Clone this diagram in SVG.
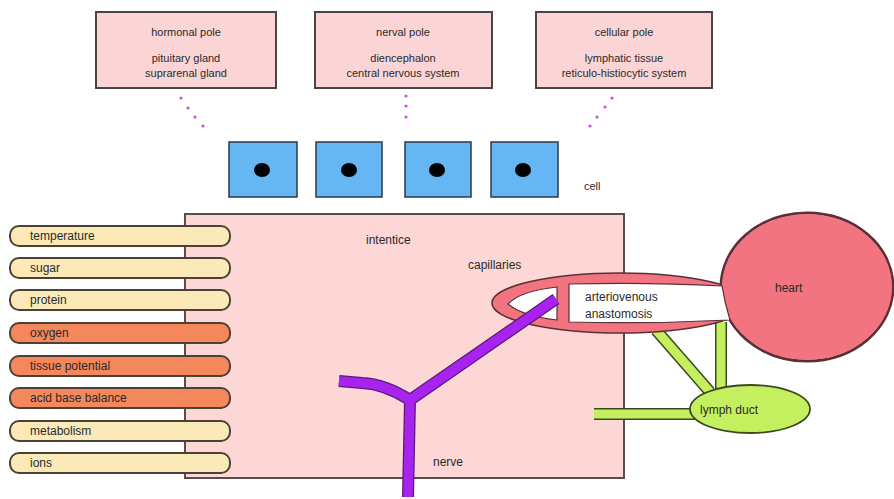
<svg xmlns="http://www.w3.org/2000/svg" width="894" height="499" viewBox="0 0 894 499">
<style>
text{font-family:"Liberation Sans",Arial,sans-serif;font-size:11px;fill:#2a2a2a}
.pole{fill:#fbd5d5;stroke:#4a4444;stroke-width:2}
.cellbox{fill:#66b6f4;stroke:#2a3a4a;stroke-width:1.5}
.nuc{fill:#000}
.pill{stroke:#4a4236;stroke-width:2}
.beige{fill:#fbeab8}
.orange{fill:#f4875c}
.dot{fill:#c455e0}
.pink{fill:#f27480;stroke:#5a3036;stroke-width:1.5}
.white{fill:#fff;stroke:#5a3036;stroke-width:1.2}
.lymphE{fill:none;stroke:#3c4a20;stroke-width:12}
.lymphI{fill:none;stroke:#c4f060;stroke-width:9}
.ptext{font-size:12px}
</style>
<rect x="0" y="0" width="894" height="499" fill="#ffffff"/>
<g id="interstice">
<rect x="185" y="214" width="439" height="264" fill="#fdd6d6" stroke="#5a4c4c" stroke-width="2"/>
<text x="366" y="244" class="ptext">intentice</text>
<text x="468" y="269" class="ptext">capillaries</text>
<text x="433" y="466" class="ptext">nerve</text>
</g>
<g id="hormonal">
<rect class="pole" x="96" y="12" width="180" height="76"/>
<text x="186" y="36" text-anchor="middle">hormonal pole</text>
<text x="186" y="62" text-anchor="middle">pituitary gland</text>
<text x="186" y="77" text-anchor="middle">suprarenal gland</text>
</g>
<g id="nerval">
<rect class="pole" x="315" y="12" width="177" height="76"/>
<text x="403" y="36" text-anchor="middle">nerval pole</text>
<text x="403" y="62" text-anchor="middle">diencephalon</text>
<text x="403" y="77" text-anchor="middle">central nervous system</text>
</g>
<g id="cellular">
<rect class="pole" x="536" y="12" width="176" height="76"/>
<text x="624" y="36" text-anchor="middle">cellular pole</text>
<text x="624" y="62" text-anchor="middle">lymphatic tissue</text>
<text x="624" y="77" text-anchor="middle">reticulo-histiocytic system</text>
</g>
<g id="connectors">
<circle class="dot" cx="181" cy="98" r="1.6"/><circle class="dot" cx="188" cy="108" r="1.6"/><circle class="dot" cx="195" cy="117" r="1.6"/><circle class="dot" cx="203" cy="126" r="1.6"/>
<circle class="dot" cx="406" cy="96" r="1.6"/><circle class="dot" cx="406" cy="106" r="1.6"/><circle class="dot" cx="406" cy="117" r="1.6"/>
<circle class="dot" cx="612" cy="98" r="1.6"/><circle class="dot" cx="605" cy="107" r="1.6"/><circle class="dot" cx="597" cy="117" r="1.6"/><circle class="dot" cx="590" cy="126" r="1.6"/>
<path class="lymphE" d="M594,414 L700,414 M656,330 L710,392 M721,322 L721,392"/>
<path class="lymphI" d="M594,414 L700,414 M656,330 L710,392 M721,322 L721,392"/>
</g>
<g id="cells">
<rect class="cellbox" x="229" y="142" width="68" height="55"/><ellipse class="nuc" cx="262" cy="170" rx="8" ry="7"/>
<rect class="cellbox" x="316" y="142" width="66" height="55"/><ellipse class="nuc" cx="349" cy="170" rx="8" ry="7"/>
<rect class="cellbox" x="405" y="142" width="66" height="55"/><ellipse class="nuc" cx="437" cy="170" rx="8" ry="7"/>
<rect class="cellbox" x="491" y="142" width="67" height="55"/><ellipse class="nuc" cx="523" cy="170" rx="8" ry="7"/>
<text x="584" y="190">cell</text>
</g>
<g id="factors">
<rect class="pill beige" x="10" y="226" width="220" height="20" rx="9"/><text x="30" y="240" class="ptext">temperature</text>
<rect class="pill beige" x="10" y="258" width="220" height="20" rx="9"/><text x="30" y="272" class="ptext">sugar</text>
<rect class="pill beige" x="10" y="290" width="220" height="20" rx="9"/><text x="30" y="304" class="ptext">protein</text>
<rect class="pill orange" x="10" y="323" width="220" height="20" rx="9"/><text x="30" y="337" class="ptext">oxygen</text>
<rect class="pill orange" x="10" y="356" width="220" height="20" rx="9"/><text x="30" y="370" class="ptext">tissue potential</text>
<rect class="pill orange" x="10" y="388" width="220" height="20" rx="9"/><text x="30" y="402" class="ptext">acid base balance</text>
<rect class="pill beige" x="10" y="421" width="220" height="20" rx="9"/><text x="30" y="435" class="ptext">metabolism</text>
<rect class="pill beige" x="10" y="453" width="220" height="20" rx="9"/><text x="30" y="467" class="ptext">ions</text>
</g>
<g id="lymph-duct">
<ellipse cx="750" cy="409" rx="60" ry="24" fill="#c4f060" stroke="#3c4a20" stroke-width="1.8"/>
<text x="700" y="414" class="ptext">lymph duct</text>
</g>
<g id="heart-capillaries">
<ellipse cx="807" cy="287" rx="86" ry="74" fill="none" stroke="#5a3036" stroke-width="3"/>
<ellipse class="pink" cx="620" cy="303" rx="128" ry="30"/>
<ellipse cx="807" cy="287" rx="85" ry="73" fill="#f27480"/>
<path class="white" d="M557,287 L557,320 Q522,316 508,304 Q520,291 557,287 Z"/>
<path class="white" d="M569,284 Q650,282 722,286 Q725,304 730,320 Q650,324 569,322 Z"/>
<text x="585" y="301" class="ptext">arteriovenous</text>
<text x="585" y="318" class="ptext">anastomosis</text>
<text x="775" y="292" class="ptext">heart</text>
</g>
<g id="nerve">
<path d="M408,497 L410,400 L556,299 M410,400 Q385,384 362,383 L339,381" fill="none" stroke="#5a1a7a" stroke-width="12" stroke-linejoin="round"/>
<path d="M408,497 L410,400 L556,299 M410,400 Q385,384 362,383 L339,381" fill="none" stroke="#a823ee" stroke-width="9.5" stroke-linejoin="round"/>
</g>
</svg>
